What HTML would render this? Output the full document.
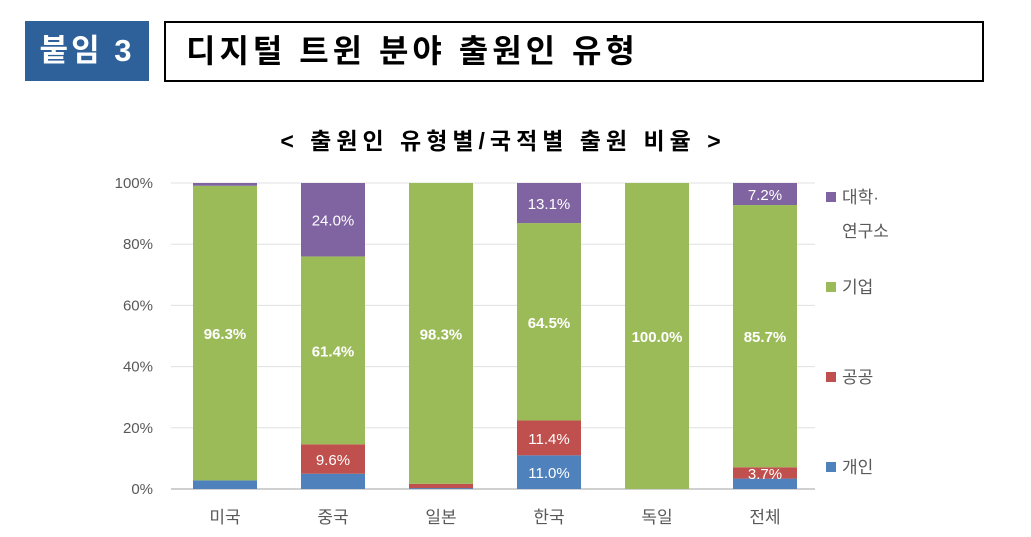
<!DOCTYPE html>
<html><head><meta charset="utf-8">
<style>
body{margin:0;width:1031px;height:537px;background:#fff;overflow:hidden;font-family:"Liberation Sans","Noto Sans CJK KR",sans-serif;position:relative}
.tag{position:absolute;left:25px;top:21px;width:124px;height:60px;background:#2e6099;color:#fff;font-weight:bold;font-size:31px;line-height:60px;text-align:center;letter-spacing:3px}
.ttl{position:absolute;left:164px;top:21px;width:796px;height:57px;border:2px solid #000;font-weight:bold;font-size:32px;line-height:57px;padding-left:20px;box-sizing:content-box;letter-spacing:4px;white-space:nowrap}
</style></head><body>
<div class="tag">붙임 3</div>
<div class="ttl">디지털 트윈 분야 출원인 유형</div>
<svg width="1031" height="537" style="position:absolute;left:0;top:0" id="chart">
<text x="503" y="149" text-anchor="middle" font-size="23" font-weight="bold" letter-spacing="5" fill="#000">&lt; 출원인 유형별/국적별 출원 비율 &gt;</text>
</svg>
<script>
const categories=["미국","중국","일본","한국","독일","전체"];
const individual=[2.8,5.0,0.3,11.0,0,3.4];
const publicSec=[0,9.6,1.4,11.4,0,3.7];
const company=[96.3,61.4,98.3,64.5,100.0,85.7];
const university=[0.9,24.0,0,13.1,0,7.2];
const labelInd=["","","","11.0%","",""];
const labelPub=["","9.6%","","11.4%","","3.7%"];
const labelCom=["96.3%","61.4%","98.3%","64.5%","100.0%","85.7%"];
const labelUni=["","24.0%","","13.1%","","7.2%"];
const yTicks=[0,20,40,60,80,100];
const series=[
 {name:"개인",vals:individual,labels:labelInd,color:"#4f81bd",bold:false},
 {name:"공공",vals:publicSec,labels:labelPub,color:"#c0504d",bold:false},
 {name:"기업",vals:company,labels:labelCom,color:"#9bbb59",bold:true},
 {name:"대학·연구소",vals:university,labels:labelUni,color:"#8064a2",bold:false}
];
const svg=document.getElementById('chart');const NS="http://www.w3.org/2000/svg";
const y0=489,y1=183,x0=171,x1=815,pitch=108,bw=64;
const Y=v=>y0-(v/100)*(y0-y1);
const X=i=>x0+pitch*i+(pitch-bw)/2;
function mk(t,a,p){const e=document.createElementNS(NS,t);for(const k in a)e.setAttribute(k,a[k]);(p||svg).appendChild(e);return e;}
yTicks.forEach(t=>{
 const l=mk('line',{x1:x0,x2:x1,y1:Y(t),y2:Y(t),stroke:t===0?'#d0d0d0':'#e0e0e0','stroke-width':t===0?2:1});
 
 
 const tx=mk('text',{x:153,y:Y(t)+5,'text-anchor':'end','font-size':15,fill:'#595959'});tx.textContent=t+'%';
 
 
});
categories.forEach((c,i)=>{
 let acc=0;const x=X(i);
 series.forEach(s=>{
  const v=s.vals[i];if(v>0){
   const r=mk('rect',{x:x,y:Y(acc+v),width:bw,height:Y(acc)-Y(acc+v),fill:s.color});
   
   
   if(s.labels[i]){const t=mk('text',{x:x+bw/2,y:(Y(acc)+Y(acc+v))/2+6,'text-anchor':'middle','font-size':15,fill:'#fff','font-weight':s.bold?'bold':'normal'});t.textContent=s.labels[i];
    
    }
  }
  acc+=v;
 });
 const t=mk('text',{x:x+bw/2,y:523,'text-anchor':'middle','font-size':17,fill:'#595959'});t.textContent=c;
 
 
});
const leg=[{n:"대학·",n2:"연구소",c:"#8064a2",y:197},{n:"기업",c:"#9bbb59",y:287},{n:"공공",c:"#c0504d",y:377},{n:"개인",c:"#4f81bd",y:467}];
leg.forEach(l=>{
 const r=mk('rect',{x:826,y:l.y-5,width:10,height:10,fill:l.c});
 
 
 const t=mk('text',{x:842,y:l.y+6,'font-size':17,fill:'#595959'});t.textContent=l.n;
 
 
 if(l.n2){const t2=mk('text',{x:842,y:l.y+40,'font-size':17,fill:'#595959'});t2.textContent=l.n2;
  
  }
});
</script>
</body></html>
